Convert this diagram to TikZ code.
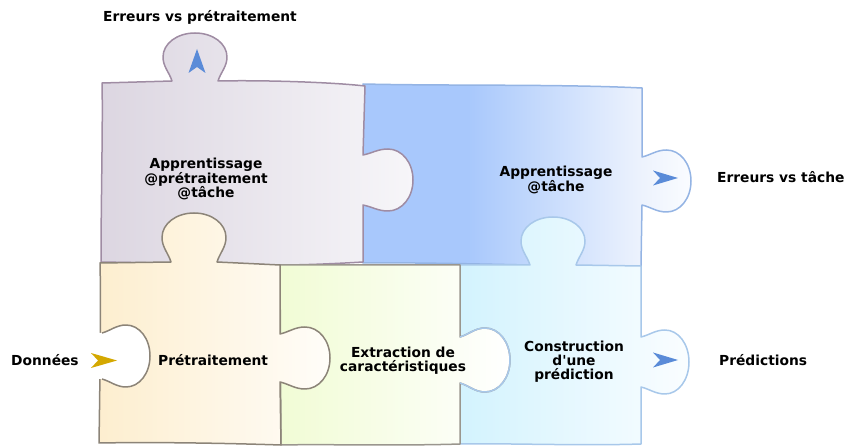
\documentclass[tikz,border=0pt]{standalone}
\usepackage{fontspec}
\setmainfont{DejaVu Sans}
\definecolor{tlA}{HTML}{DCD6E1}
\definecolor{tlB}{HTML}{F7F6F9}
\definecolor{tlL}{HTML}{9F8CA3}
\definecolor{blA}{HTML}{A8C8FC}
\definecolor{blB}{HTML}{ECF2FD}
\definecolor{blC}{HTML}{FAFCFF}
\definecolor{blL}{HTML}{94B4E4}
\definecolor{bgA}{HTML}{FDEECF}
\definecolor{bgB}{HTML}{FFFDF9}
\definecolor{bgL}{HTML}{8C8478}
\definecolor{grA}{HTML}{F1FCD5}
\definecolor{grB}{HTML}{FFFFFF}
\definecolor{grL}{HTML}{9A968E}
\definecolor{cyA}{HTML}{D3F3FE}
\definecolor{cyB}{HTML}{FAFDFF}
\definecolor{cyL}{HTML}{A8C8EA}
\definecolor{arrowblue}{HTML}{5A8BD8}
\definecolor{gold}{HTML}{D4A800}
\pgfdeclarehorizontalshading{blueS}{100bp}{color(0bp)=(blA); color(25bp)=(blA); color(41bp)=(blA); color(67bp)=(blB); color(75bp)=(blC); color(100bp)=(blC)}
% knob pointing up, traversed left to right: cx, base y, neck half, bulb half, length
\newcommand\knobU[5]{(#1-#3,#2) .. controls (#1-#3-0.3*#4+0.3*#3,#2-0.18*#5) and (#1-#4,#2-0.3*#5) .. (#1-#4,#2-0.5*#5) .. controls (#1-#4,#2-0.78*#5) and (#1-0.56*#4,#2-#5) .. (#1,#2-#5) .. controls (#1+0.56*#4,#2-#5) and (#1+#4,#2-0.78*#5) .. (#1+#4,#2-0.5*#5) .. controls (#1+#4,#2-0.3*#5) and (#1+#3+0.3*#4-0.3*#3,#2-0.18*#5) .. (#1+#3,#2)}
% knob pointing right, traversed top to bottom: base x, cy, neck half, bulb half, length
\newcommand\knobR[5]{(#1,#2-#3) .. controls (#1+0.18*#5,#2-#3-0.3*#4+0.3*#3) and (#1+0.3*#5,#2-#4) .. (#1+0.5*#5,#2-#4) .. controls (#1+0.78*#5,#2-#4) and (#1+#5,#2-0.56*#4) .. (#1+#5,#2) .. controls (#1+#5,#2+0.56*#4) and (#1+0.78*#5,#2+#4) .. (#1+0.5*#5,#2+#4) .. controls (#1+0.3*#5,#2+#4) and (#1+0.18*#5,#2+#3+0.3*#4-0.3*#3) .. (#1,#2+#3)}
\tikzset{
  piece/.style={line width=1.5pt, line join=round},
  lbl/.style={font=\bfseries\fontsize{13.8}{14.3}\selectfont, inner sep=0pt, text=black},
  mlbl/.style={lbl, align=center},
}
\begin{document}
\begin{tikzpicture}[x=1pt,y=-1pt]
\useasboundingbox (0,0) rectangle (847,446);
% blue piece (top right)
\path[piece, shading=blueS, draw=blL] (363,84) .. controls (450,86) and (560,84) .. (642,88) -- \knobR{642}{181}{24}{31}{49} -- (641,266) .. controls (560,267) and (450,262) .. (363,263) -- cycle;
% top-left piece
\path[piece, left color=tlA, right color=tlB, draw=tlL] (102,83) -- \knobU{195}{81}{23}{32}{48} .. controls (260,80) and (330,82) .. (365,86) -- \knobR{363}{180}{25}{31}{50} -- (363,262) .. controls (330,264) and (300,265) .. (280,265) -- (101,262) .. controls (101,200) and (103,120) .. (102,83) -- cycle;
% cyan piece
\path[piece, left color=cyA, right color=cyB, draw=cyL] (460,265) -- \knobU{553}{265}{23}{32}{48} -- (641,266) -- \knobR{641}{362}{25}{32}{48} -- (641,444) .. controls (580,446) and (500,443) .. (460,444) -- cycle;
% green piece
\path[piece, left color=grA, right color=grB, draw=grL] (280,265) -- (460,265) -- \knobR{460}{360}{23}{32}{50} -- (460,444) .. controls (400,446) and (320,444) .. (281,445) -- cycle;
\draw[piece, cyL] \knobR{460}{360}{23}{32}{50};
% beige piece
\path[piece, left color=bgA, right color=bgB, draw=bgL] (100,263) -- \knobU{194}{262}{23}{32}{49} -- (280,265) -- \knobR{280}{358}{24}{31}{50} -- (281,445) .. controls (220,443) and (150,442) .. (99,443) .. controls (100,380) and (101,300) .. (100,263) -- cycle;
% white indent on the left
\fill[white] (96,333) -- \knobR{102}{356}{23}{31}{48} -- (96,379) -- cycle;
\draw[piece, bgL] \knobR{102}{356}{23}{31}{48};
% arrows
\fill[arrowblue] (197,49) -- (205.5,73) -- (197,67) -- (188.5,73) -- cycle;
\fill[arrowblue] (678,178) -- (653,170.5) -- (660,178) -- (653,185.5) -- cycle;
\fill[arrowblue] (678,360) -- (653,352.5) -- (660,360) -- (653,367.5) -- cycle;
\fill[gold] (117,360.5) -- (91,353) -- (98,360.5) -- (91,368) -- cycle;
% labels
\node[lbl, anchor=base west] (errpre) at (103,22) {Erreurs vs prétraitement};
\node[lbl, anchor=base west] (errtache) at (717,183) {Erreurs vs tâche};
\node[lbl, anchor=base west] (pred) at (719,366) {Prédictions};
\node[lbl, anchor=base west] (donnees) at (11,366) {Données};
\node[lbl, anchor=base west] (pretr) at (158,366) {Prétraitement};
\node[mlbl] (apppre) at (206,179) {Apprentissage\\@prétraitement\\@tâche};
\node[mlbl] (apptache) at (556,180) {Apprentissage\\@tâche};
\node[mlbl] (extr) at (403,361) {Extraction de\\caractéristiques};
\node[mlbl] (constr) at (574,361.5) {Construction\\d\textquotesingle une\\prédiction};
\end{tikzpicture}
\end{document}
